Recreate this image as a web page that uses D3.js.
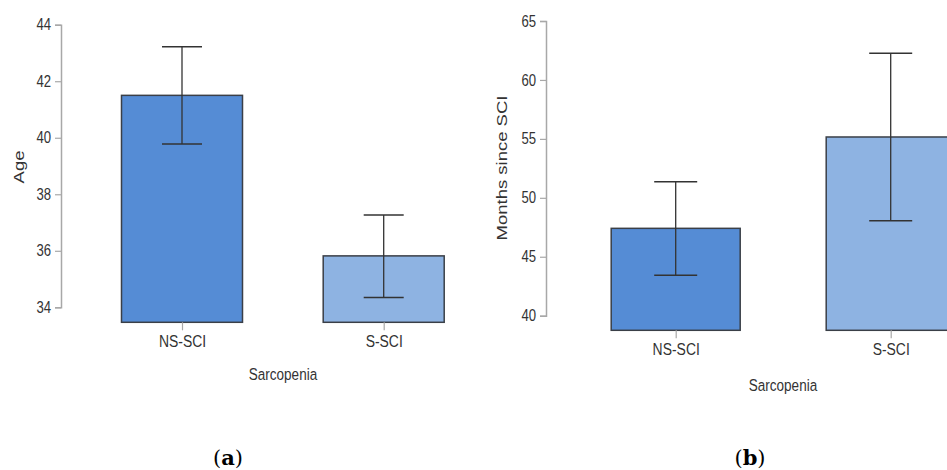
<!DOCTYPE html>
<html>
<head>
<meta charset="utf-8">
<script src="https://cdn.jsdelivr.net/npm/d3@7"></script>
<style>
  html, body { margin: 0; padding: 0; background: #fff; }
  svg { display: block; }
  .lbl { font-family: "Liberation Sans", Arial, sans-serif; fill: #333; }
  .cap { font-family: "Palatino Linotype", "DejaVu Serif", "Liberation Serif", serif; fill: #000; }
</style>
</head>
<body>
<svg id="chart" width="947" height="470"></svg>
<script>
// ---- data ----
const categories = ["NS-SCI", "S-SCI"];
const ageMean  = [41.50, 35.82];
const ageLow   = [39.78, 34.35];
const ageHigh  = [43.22, 37.27];
const ageTicks = [34, 36, 38, 40, 42, 44];

const monthsMean  = [47.41, 55.16];
const monthsLow   = [43.43, 48.06];
const monthsHigh  = [51.37, 62.26];
const monthsTicks = [40, 45, 50, 55, 60, 65];

const xTitle = "Sarcopenia";
const panelTitles = ["Age", "Months since SCI"];
const panelCaps = ["a", "b"];
const barColors = ["#558cd5", "#8eb3e2"];

const K = 0.82; // horizontal condensing of the sans font (picture is squeezed horizontally)
const svg = d3.select("#chart");

function condense(sel) {
  sel.each(function () {
    const t = d3.select(this);
    const x = +(t.attr("x") || 0);
    t.attr("transform", `translate(${x},0) scale(${K},1) translate(${-x},0)`);
  });
}

function panel(cfg) {
  const g = svg.append("g");
  const y = d3.scaleLinear().domain(cfg.yDomain).range(cfg.yRange);
  const x = d3.scalePoint().domain(categories).range(cfg.xRange);
  const base = y.domain()[0];

  // y axis (only over tick span)
  const tickMin = d3.min(cfg.ticks), tickMax = d3.max(cfg.ticks);
  const yAxisScale = y.copy().domain([tickMin, tickMax]).range([y(tickMin), y(tickMax)]);
  const ya = g.append("g")
    .attr("transform", `translate(${cfg.axisX},0)`)
    .call(d3.axisLeft(yAxisScale).tickValues(cfg.ticks).tickSizeOuter(0).tickSize(6).tickPadding(4).tickFormat(d3.format("d")));
  ya.select(".domain").attr("stroke", "#a8a8a8").attr("stroke-width", 1.5);
  ya.selectAll(".tick line").attr("stroke", "#a8a8a8").attr("stroke-width", 1.2);
  ya.selectAll(".tick text").attr("class", "lbl").attr("font-size", 16).attr("fill", "#333").call(condense);

  // bars
  const data = categories.map((c, i) => ({ c, i, m: cfg.mean[i], lo: cfg.low[i], hi: cfg.high[i] }));
  g.selectAll("rect.bar").data(data).enter().append("rect")
    .attr("class", "bar")
    .attr("x", d => x(d.c) - cfg.barW / 2)
    .attr("width", cfg.barW)
    .attr("y", d => y(d.m))
    .attr("height", d => y(base) - y(d.m))
    .attr("fill", d => barColors[d.i])
    .attr("stroke", "#3a3f47")
    .attr("stroke-width", 1.5);

  // error bars
  const eb = g.selectAll("g.eb").data(data).enter().append("g").attr("class", "eb");
  eb.append("line")
    .attr("x1", d => x(d.c)).attr("x2", d => x(d.c))
    .attr("y1", d => y(d.lo)).attr("y2", d => y(d.hi))
    .attr("stroke", "#333").attr("stroke-width", 1.3);
  eb.append("line")
    .attr("x1", d => x(d.c) - cfg.capW / 2).attr("x2", d => x(d.c) + cfg.capW / 2)
    .attr("y1", d => y(d.hi)).attr("y2", d => y(d.hi))
    .attr("stroke", "#333").attr("stroke-width", 1.5);
  eb.append("line")
    .attr("x1", d => x(d.c) - cfg.capW / 2).attr("x2", d => x(d.c) + cfg.capW / 2)
    .attr("y1", d => y(d.lo)).attr("y2", d => y(d.lo))
    .attr("stroke", "#333").attr("stroke-width", 1.5);

  // x axis (ticks only)
  const xa = g.append("g")
    .attr("transform", `translate(0,${y(base)})`)
    .call(d3.axisBottom(x).tickSize(8).tickPadding(5).tickSizeOuter(0));
  xa.select(".domain").remove();
  xa.selectAll(".tick line").attr("stroke", "#a8a8a8").attr("stroke-width", 1.2);
  xa.selectAll(".tick text").attr("class", "lbl").attr("font-size", 17).attr("fill", "#333").call(condense);

  // titles
  g.append("text").attr("class", "lbl")
    .attr("x", cfg.xTitleX).attr("y", cfg.xTitleY)
    .attr("text-anchor", "middle").attr("font-size", 16.5).text(xTitle).call(condense);
  g.append("text").attr("class", "lbl")
    .attr("transform", `translate(${cfg.yTitleX},${cfg.yTitleY}) rotate(-90) scale(1,${K})`)
    .attr("text-anchor", "middle").attr("font-size", 18.5).text(cfg.yTitle);

  // caption
  const cap = g.append("text").attr("class", "cap")
    .attr("x", cfg.capX).attr("y", 465).attr("text-anchor", "middle").attr("font-size", 21);
  cap.append("tspan").text("(");
  cap.append("tspan").attr("font-weight", "bold").text(cfg.cap);
  cap.append("tspan").text(")");
}

panel({
  yDomain: [33.47, 44], yRange: [322.3, 24.7],
  xRange: [182, 383.7], barW: 121, capW: 40, axisX: 61,
  ticks: ageTicks, mean: ageMean, low: ageLow, high: ageHigh,
  xTitleX: 283, xTitleY: 380, yTitleX: 24, yTitleY: 167, yTitle: panelTitles[0],
  capX: 228, cap: panelCaps[0]
});

panel({
  yDomain: [38.76, 65], yRange: [330.3, 21],
  xRange: [675.7, 890.7], barW: 129, capW: 43, axisX: 546,
  ticks: monthsTicks, mean: monthsMean, low: monthsLow, high: monthsHigh,
  xTitleX: 783, xTitleY: 391, yTitleX: 507, yTitleY: 168, yTitle: panelTitles[1],
  capX: 750, cap: panelCaps[1]
});
</script>
</body>
</html>
